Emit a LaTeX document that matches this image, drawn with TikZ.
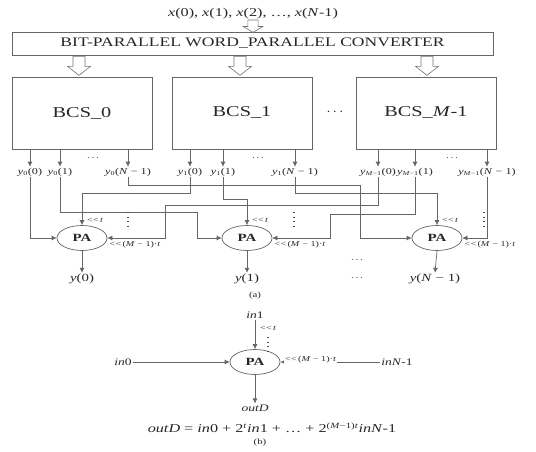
\documentclass[tikz,border=0pt]{standalone}
\usepackage{fontspec}
\setmainfont{Liberation Serif}[FakeStretch=1.35]
\usetikzlibrary{positioning,calc,arrows.meta,shapes.geometric}

\begin{document}
\begin{tikzpicture}[
x=1pt, y=-1pt,
color=black!85,
bloque/.style={
    draw=black!60,
    line width=0.7pt,
    minimum width=140pt,
    minimum height=72pt,
    inner sep=0pt,
    font=\fontsize{15}{16}\selectfont
},
conversor/.style={
    draw=black!60,
    line width=0.7pt,
    minimum width=481pt,
    minimum height=23pt,
    inner sep=0pt,
    font=\fontsize{13}{14}\selectfont
},
hueca/.pic={
    \draw[draw=black!55, fill=white, line width=0.6pt]
    (-6,0) -- (-6,10) -- (-11.5,10) -- (0,19) -- (11.5,10) -- (6,10) -- (6,0) -- cycle;
},
salida/.style={
    font=\fontsize{9}{10}\selectfont,
    inner sep=1pt
},
sumador/.style={
    ellipse,
    draw=black!60,
    line width=0.7pt,
    minimum width=50pt,
    minimum height=25pt,
    inner sep=0pt,
    font=\fontsize{11}{12}\selectfont\bfseries
},
flecha/.style={
    -{Latex[length=5pt,width=5pt]},
    draw=black!60,
    line width=0.7pt
},
corrim/.style={
    font=\fontsize{7.5}{8}\selectfont,
    inner sep=1pt
},
puntos/.style={
    font=\fontsize{10}{10}\selectfont,
    inner sep=0pt
},
puntosv/.style={
    draw=black!70,
    line width=1.3pt,
    dash pattern=on 1.3pt off 3.2pt
},
texto/.style={
    font=\fontsize{10}{11}\selectfont,
    inner sep=1pt
}
]
\useasboundingbox (0,0) rectangle (536,452);

% Entrada y conversor
\node[texto, font=\fontsize{12}{13}\selectfont] (entrada) at (253,14)
{\textit{x}(0), \textit{x}(1), \textit{x}(2), \dots, \textit{x}(\textit{N}-1)};

\node[conversor] (conv) at (252.5,43.5) {BIT-PARALLEL WORD\_PARALLEL CONVERTER};

\pic[xscale=0.85, yscale=0.65] at (entrada.south |- 0,20) {hueca};

% Bloques BCS
\node[bloque] (bcs0) at (82,113) {BCS\_0};
\node[bloque] (bcs1) at (242,113) {BCS\_1};
\node[bloque] (bcsM) at (426,113) {BCS\_\textit{M}-1};
\node[puntos, font=\fontsize{14}{14}\selectfont] (pbcs) at (335,112) {$\cdots$};

\pic at ($(conv.south -| bcs0)+(-3,1)$) {hueca};
\pic at ($(conv.south -| bcs1)+(-2,1)$) {hueca};
\pic at ($(conv.south -| bcsM)+(1,1)$) {hueca};

% Salidas de los bloques
\node[salida] (y00) at (30,172) {\textit{y}\textsubscript{0}(0)};
\node[salida] (y01) at (60,172) {\textit{y}\textsubscript{0}(1)};
\node[salida] (y0N) at (128,172) {\textit{y}\textsubscript{0}(\textit{N} − 1)};
\node[salida] (y10) at (190,172) {\textit{y}\textsubscript{1}(0)};
\node[salida] (y11) at (223,172) {\textit{y}\textsubscript{1}(1)};
\node[salida] (y1N) at (295,172) {\textit{y}\textsubscript{1}(\textit{N} − 1)};
\node[salida] (yM0) at (378,172) {\textit{y}\textsubscript{\textit{M}−1}(0)};
\node[salida] (yM1) at (415,172) {\textit{y}\textsubscript{\textit{M}−1}(1)};
\node[salida] (yMN) at (487,172) {\textit{y}\textsubscript{\textit{M}−1}(\textit{N} − 1)};

\node[puntos] (p0) at (93,158) {$\cdots$};
\node[puntos] (p1) at (258,158) {$\cdots$};
\node[puntos] (pM) at (452,158) {$\cdots$};

\draw[flecha] (bcs0.south -| y00) -- (y00.north);
\draw[flecha] (bcs0.south -| y01) -- (y01.north);
\draw[flecha] (bcs0.south -| y0N) -- (y0N.north);
\draw[flecha] (bcs1.south -| y10) -- (y10.north);
\draw[flecha] (bcs1.south -| y11) -- (y11.north);
\draw[flecha] (bcs1.south -| y1N) -- (y1N.north);
\draw[flecha] (bcsM.south -| yM0) -- (yM0.north);
\draw[flecha] (bcsM.south -| yM1) -- (yM1.north);
\draw[flecha] (bcsM.south -| yMN) -- (yMN.north);

% Sumadores PA
\node[sumador] (pa0) at (82,238) {PA};
\node[sumador] (pa1) at (247,238) {PA};
\node[sumador] (pa2) at (437,238) {PA};

% Puntos de quiebre del cableado
\coordinate (q0N) at (360,185);
\coordinate (q10) at (pa0 |- 0,193);
\coordinate (q1N) at (pa2 |- 0,193);
\coordinate (q11) at (pa1 |- 0,199);
\coordinate (qM0) at (165,205);
\coordinate (q01) at (197,212);
\coordinate (qM1) at (330,214);

% Cableado
\draw[flecha] (y00.south) |- (pa0.west);
\draw[flecha] (y10.south) |- (q10) -- (pa0.north);
\draw[flecha] (yM0.south) |- (qM0) |- (pa0.east);

\draw[flecha] (y01.south) |- (q01) |- (pa1.west);
\draw[flecha] (y11.south) |- (q11) -- (pa1.north);
\draw[flecha] (yM1.south) |- (qM1) |- (pa1.east);

\draw[flecha] (y0N.south) |- (q0N) |- (pa2.west);
\draw[flecha] (y1N.south) |- (q1N) -- (pa2.north);
\draw[flecha] (yMN.south) |- (pa2.east);

% Etiquetas de corrimiento
\node[corrim, anchor=south west] (t0) at ($(pa0.north)+(4,-1)$) {<\kern0.3pt<\,\textit{t}};
\node[corrim, anchor=south west] (t1) at ($(pa1.north)+(4,-1)$) {<\kern0.3pt<\,\textit{t}};
\node[corrim, anchor=south west] (t2) at ($(pa2.north)+(4,-1)$) {<\kern0.3pt<\,\textit{t}};
\node[corrim, anchor=north west] (m0) at ($(pa0.east)+(1,2)$) {<\kern0.3pt<\,(\textit{M} − 1)·\textit{t}};
\node[corrim, anchor=north west] (m1) at ($(pa1.east)+(1,2)$) {<\kern0.3pt<\,(\textit{M} − 1)·\textit{t}};
\node[corrim, anchor=north west] (m2) at ($(pa2.east)+(1,2)$) {<\kern0.3pt<\,(\textit{M} − 1)·\textit{t}};
\draw[puntosv] ($(pa0)+(46,-26)$) -- ++(0,16);
\draw[puntosv] ($(pa1)+(47,-26)$) -- ++(0,16);
\draw[puntosv] ($(pa2)+(47,-26)$) -- ++(0,16);

% Salidas finales
\node[texto, font=\fontsize{11}{12}\selectfont] (o0) at (82,279) {\textit{y}(0)};
\node[texto, font=\fontsize{11}{12}\selectfont] (o1) at (247,279) {\textit{y}(1)};
\node[texto, font=\fontsize{11}{12}\selectfont] (o2) at (435,279) {\textit{y}(\textit{N} − 1)};
\draw[flecha] (pa0.south) -- (o0.north);
\draw[flecha] (pa1.south) -- (o1.north);
\draw[flecha] (pa2.south) -- (o2.north);
\node[puntos] (pp1) at (357,260) {$\cdots$};
\node[puntos] (pp2) at (357,278) {$\cdots$};

\node[texto, font=\fontsize{8}{9}\selectfont] (capa) at (255,296) {(a)};

% Parte (b)
\node[sumador] (pab) at (255,362) {PA};
\node[texto] (in1) at (255,315) {\textit{in}1};
\node[texto] (in0) at (123,362) {\textit{in}0};
\node[texto] (inN) at (397,362) {\textit{inN}-1};
\node[texto] (outd) at (255,408) {\textit{outD}};

\draw[flecha] (in1.south) -- (pab.north);
\draw[flecha] (in0.east) -- (pab.west);
\draw[flecha] (inN.west) -- (pab.east);
\draw[flecha] (pab.south) -- (outd.north);

\node[corrim, anchor=west] (tb) at (259,328) {<\kern0.3pt<\,\textit{t}};
\draw[puntosv] (268,337) -- ++(0,16);
\node[corrim, anchor=west, fill=white] (mb) at (284,360) {<\kern0.3pt<\,(\textit{M} − 1)·\textit{t}};

\node[texto, font=\fontsize{12}{13}\selectfont] (ecuacion) at (272,428)
{\textit{outD} = \textit{in}0 + 2\textsuperscript{\textit{t}}\textit{in}1 + \dots\ + 2\textsuperscript{(\textit{M}−1)\textit{t}}\textit{inN}-1};
\node[texto, font=\fontsize{8}{9}\selectfont] (capb) at (260,443) {(b)};

\end{tikzpicture}
\end{document}
